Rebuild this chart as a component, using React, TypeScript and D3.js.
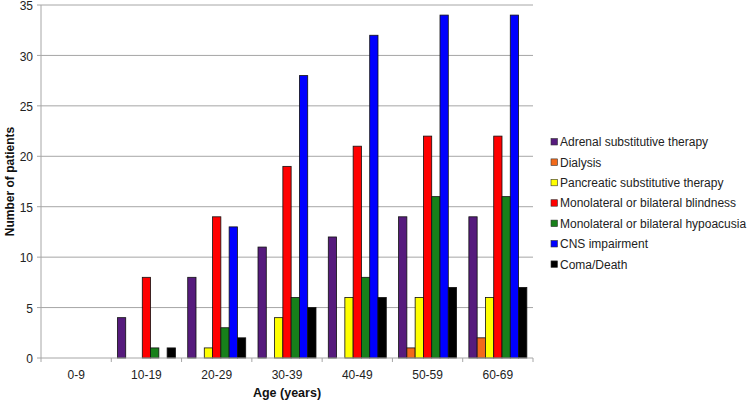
import React from "react";
import * as d3 from "d3";

const categories = ["0-9", "10-19", "20-29", "30-39", "40-49", "50-59", "60-69"];
const seriesNames = [
  "Adrenal substitutive therapy",
  "Dialysis",
  "Pancreatic substitutive therapy",
  "Monolateral or bilateral blindness",
  "Monolateral or bilateral hypoacusia",
  "CNS impairment",
  "Coma/Death",
];
const seriesColors = ["#561b7d", "#f26a1b", "#ffff00", "#ff0000", "#17801a", "#0000ff", "#000000"];
const adrenal = [0, 4, 8, 11, 12, 14, 14];
const dialysis = [0, 0, 0, 0, 0, 1, 2];
const pancreatic = [0, 0, 1, 4, 6, 6, 6];
const blindness = [0, 8, 14, 19, 21, 22, 22];
const hypoacusia = [0, 1, 3, 6, 8, 16, 16];
const cns = [0, 0, 13, 28, 32, 34, 34];
const coma = [0, 1, 2, 5, 6, 7, 7];
const seriesValues = [adrenal, dialysis, pancreatic, blindness, hypoacusia, cns, coma];
const yTicks = [0, 5, 10, 15, 20, 25, 30, 35];

const W = 749;
const H = 401;
const left = 41;
const right = 533;
const top = 5;
const bottom = 358;
const font = "'Liberation Sans', Arial, sans-serif";

export default function App() {
  const x = d3.scaleBand<string>().domain(categories).range([left, right]).padding(0);
  const bw = x.bandwidth();
  const groupW = bw * 0.825;
  const inner = d3
    .scaleBand<number>()
    .domain(d3.range(seriesNames.length))
    .range([(bw - groupW) / 2, (bw + groupW) / 2])
    .padding(0);
  const y = d3.scaleLinear().domain([0, 35]).range([bottom, top]);
  const boundaries = d3.range(categories.length + 1).map((i) => left + i * bw);

  return (
    <svg width={W} height={H} style={{ position: "absolute", left: 0, top: 0, background: "#fff" }}>
      {yTicks.map((t) => (
        <g key={t}>
          {t > 0 && <line x1={left} x2={right} y1={y(t)} y2={y(t)} stroke="#a6a6a6" strokeWidth={1} />}
          <line x1={left - 4} x2={left} y1={y(t)} y2={y(t)} stroke="#a6a6a6" strokeWidth={1} />
          <text x={left - 8} y={y(t) + 1} dy="0.35em" textAnchor="end" fontFamily={font} fontSize={12} fill="#222">
            {t}
          </text>
        </g>
      ))}
      {seriesValues.map((vals, si) =>
        vals.map((v, ci) =>
          v > 0 ? (
            <rect
              key={`${si}-${ci}`}
              x={(x(categories[ci]) as number) + (inner(si) as number)}
              y={y(v)}
              width={inner.bandwidth()}
              height={bottom - y(v)}
              fill={seriesColors[si]}
              stroke="#111"
              strokeWidth={0.8}
            />
          ) : null
        )
      )}
      <line x1={left} x2={left} y1={top} y2={bottom} stroke="#a6a6a6" strokeWidth={1} />
      <line x1={left} x2={right} y1={bottom} y2={bottom} stroke="#a6a6a6" strokeWidth={1} />
      {boundaries.map((b, i) => (
        <line key={i} x1={b} x2={b} y1={bottom} y2={bottom + 4} stroke="#a6a6a6" strokeWidth={1} />
      ))}
      {categories.map((c) => (
        <text
          key={c}
          x={(x(c) as number) + bw / 2}
          y={375}
          dy="0.35em"
          textAnchor="middle"
          fontFamily={font}
          fontSize={12}
          fill="#222"
        >
          {c}
        </text>
      ))}
      <text x={287} y={397} textAnchor="middle" fontFamily={font} fontSize={12.5} fontWeight="bold" fill="#111">
        Age (years)
      </text>
      <text
        transform={`translate(10, ${(top + bottom) / 2}) rotate(-90)`}
        textAnchor="middle"
        fontFamily={font}
        fontSize={12}
        fontWeight="bold"
        fill="#111"
        dy="0.35em"
      >
        Number of patients
      </text>
      {seriesNames.map((n, i) => {
        const ly = 142 + i * 20.4;
        return (
          <g key={n}>
            <rect x={551} y={ly - 3.5} width={6.5} height={6.5} fill={seriesColors[i]} stroke="#333" strokeWidth={0.6} />
            <text x={560} y={ly} dy="0.35em" fontFamily={font} fontSize={12} fill="#222">
              {n}
            </text>
          </g>
        );
      })}
    </svg>
  );
}
